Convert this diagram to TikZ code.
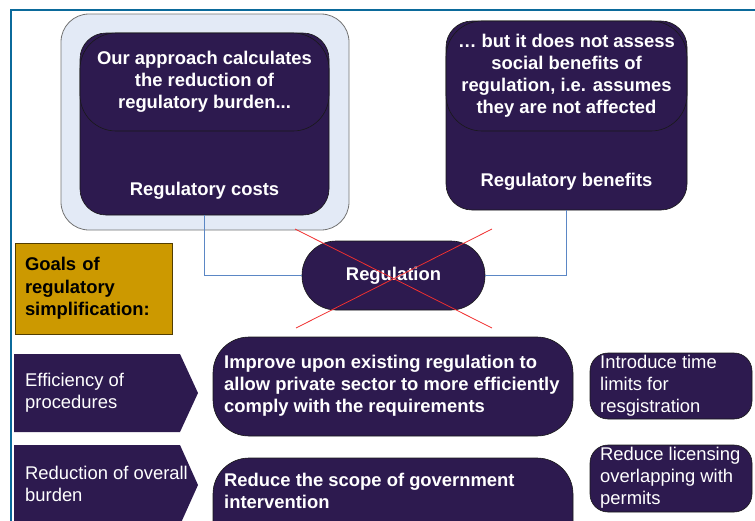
\documentclass[tikz,border=0pt]{standalone}
\usepackage{fontspec}
\setmainfont{Liberation Sans}
\usetikzlibrary{calc}
\definecolor{plum}{HTML}{2D1A4F}
\definecolor{panelblue}{HTML}{E3EAF6}
\definecolor{framecol}{HTML}{0B6A9B}
\definecolor{wirecol}{HTML}{5B87C5}
\definecolor{gold}{HTML}{CC9900}
\definecolor{crosscol}{HTML}{F03030}
\begin{document}
\begin{tikzpicture}[x=1pt,y=-1pt,
  every node/.style={inner sep=0pt},
  darkbox/.style={draw=black!90, line width=0.6pt, fill=plum},
  panel/.style={draw=black!55, line width=0.8pt, fill=panelblue},
  boldtxt/.style={text=white, font=\fontsize{18.4}{22}\selectfont\bfseries, align=center},
  plaintxt/.style={text=white, font=\fontsize{18.4}{22}\selectfont, align=left},
  wire/.style={draw=wirecol, line width=0.8pt},
  strike/.style={draw=crosscol, line width=0.8pt},
  goalbox/.style={draw=black!60!gold, line width=0.8pt, fill=gold,
    font=\fontsize{18.4}{22.5}\selectfont\bfseries, align=left},
  tag/.style={fill=plum}
]
\useasboundingbox (0,0) rectangle (755,520);
\clip (0,0) rectangle (755,520);

% outer frame (only top and left edges fall inside the page)
\draw[framecol, line width=2pt] (11,10) rectangle (800,600);

% cost side
\node[panel, minimum width=288pt, minimum height=216pt, rounded corners=28pt] (costpanel) at (205,122) {};
\node[darkbox, minimum width=249pt, minimum height=182pt, rounded corners=26pt] (costs) at (204.5,124) {};
\node[darkbox, minimum width=249pt, minimum height=98pt, rounded corners=36pt, boldtxt] (approach) at (204.5,82)
  {Our approach calculates\\the reduction of\\regulatory burden...};
\node[boldtxt] (costlabel) at (204.5,191) {Regulatory costs};

% benefit side
\node[darkbox, minimum width=241pt, minimum height=189pt, rounded corners=26pt] (benefits) at (566.5,115.5) {};
\node[darkbox, minimum width=241pt, minimum height=110pt, rounded corners=36pt, boldtxt] (notassessed) at (566.5,76)
  {\dots\ but it does not assess\\social benefits of\\regulation, i.e. assumes\\they are not affected};
\node[boldtxt] (benefitlabel) at (566.5,182) {Regulatory benefits};

% regulation
\node[darkbox, minimum width=183pt, minimum height=69pt, rounded corners=34pt, boldtxt] (reg) at (393.5,275.5) {Regulation};
\draw[wire] (costs.south) |- (reg.west);
\draw[wire] (benefits.south) |- (reg.east);

% crossed out
\coordinate (xa) at (295,229);
\coordinate (xb) at (492,328);
\coordinate (xc) at (492,229);
\coordinate (xd) at (296,328);
\draw[strike] (xa) -- (xb);
\draw[strike] (xc) -- (xd);

% goals
\node[goalbox, text width=137pt, inner xsep=10pt, minimum height=91pt] (goals) at (93.5,288.5)
  {Goals of\\regulatory\\simplification:};

% goal rows
\fill[tag] (14,354) -- (180,354) -- (198,393) -- (180,432) -- (14,432) -- cycle;
\node[plaintxt, anchor=west] (eff) at (25,393) {Efficiency of\\procedures};
\fill[tag] (14,445) -- (180,445) -- (198,485) -- (180,525) -- (14,525) -- cycle;
\node[plaintxt, anchor=west] (red) at (25,484) {Reduction of overall\\burden};

\node[darkbox, minimum width=360pt, minimum height=99pt, rounded corners=36pt] (improve) at (393,386.5) {};
\node[boldtxt, align=left, anchor=west] (improvetxt) at (224,386)
  {Improve upon existing regulation to\\allow private sector to more efficiently\\comply with the requirements};
\node[darkbox, minimum width=360pt, minimum height=99pt, rounded corners=36pt] (scope) at (393,507.5) {};
\node[boldtxt, align=left, anchor=west] (scopetxt) at (224,491)
  {Reduce the scope of government\\intervention};

\node[darkbox, minimum width=162pt, minimum height=66pt, rounded corners=18pt] (timebox) at (671,386) {};
\node[plaintxt, anchor=west] (timetxt) at (600,386) {Introduce time\\limits for\\resgistration};
\node[darkbox, minimum width=162pt, minimum height=67pt, rounded corners=18pt] (licbox) at (671,478.5) {};
\node[plaintxt, anchor=west] (lictxt) at (600,478) {Reduce licensing\\overlapping with\\permits};
\end{tikzpicture}
\end{document}
